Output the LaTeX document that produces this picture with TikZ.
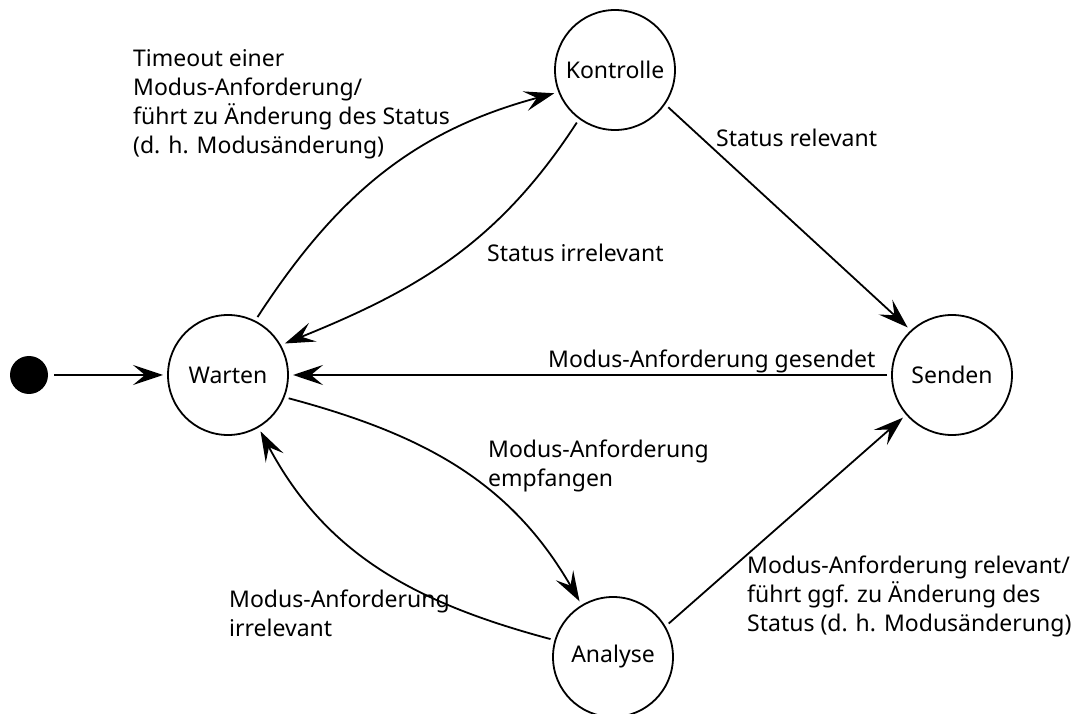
\documentclass[tikz,border=0pt]{standalone}
\usepackage{fontspec}
\setmainfont{Noto Sans}
\usetikzlibrary{arrows.meta}
\begin{document}
\begin{tikzpicture}[x=1pt,y=1pt,
  txt/.style={font=\fontsize{23}{29}\selectfont},
  state/.style={circle, draw, line width=1.8pt, minimum size=120pt, inner sep=0pt, outer sep=5pt, txt},
  initstate/.style={circle, fill=black, minimum size=38pt, inner sep=0pt, outer sep=6pt},
  lbl/.style={anchor=base west, inner sep=0pt, align=left, txt},
  tr/.style={line width=1.8pt, -{Stealth[length=30pt,width=20pt,inset=12pt]}},
]
\useasboundingbox (0,0) rectangle (1079,713);
\node[initstate] (init) at (29,338) {};
\node[state] (W) at (228,338) {Warten};
\node[state] (K) at (615,643) {Kontrolle};
\node[state] (S) at (952,338) {Senden};
\node[state] (A) at (613,56) {Analyse};

\draw[tr] (init) -- (W);
\draw[tr] (W.63) to[out=57, in=195] (K.201);
\draw[tr] (K.234) to[out=237, in=22] (W.29);
\draw[tr] (K.-35) -- (S.133);
\draw[tr] (S.west) -- (W.east);
\draw[tr] (W.-21) to[out=-15, in=120] (A.121);
\draw[tr] (A.164) to[out=165, in=-62] (W.-60);
\draw[tr] (A.31) -- (S.221);

% anchor base west of a multi-line node is the baseline of its last line
\node[lbl] (l1) at (133,559) {Timeout einer\\Modus-Anforderung/\\führt zu Änderung des Status\\(d. h. Modusänderung)};
\node[lbl] (l2) at (716,566) {Status relevant};
\node[lbl] (l3) at (487,451) {Status irrelevant};
\node[lbl] (l4) at (548,345) {Modus-Anforderung gesendet};
\node[lbl] (l5) at (488,227) {Modus-Anforderung\\empfangen};
\node[lbl] (l6) at (229,77) {Modus-Anforderung\\irrelevant};
\node[lbl] (l7) at (747,82) {Modus-Anforderung relevant/\\führt ggf. zu Änderung des\\Status (d. h. Modusänderung)};
\end{tikzpicture}
\end{document}
